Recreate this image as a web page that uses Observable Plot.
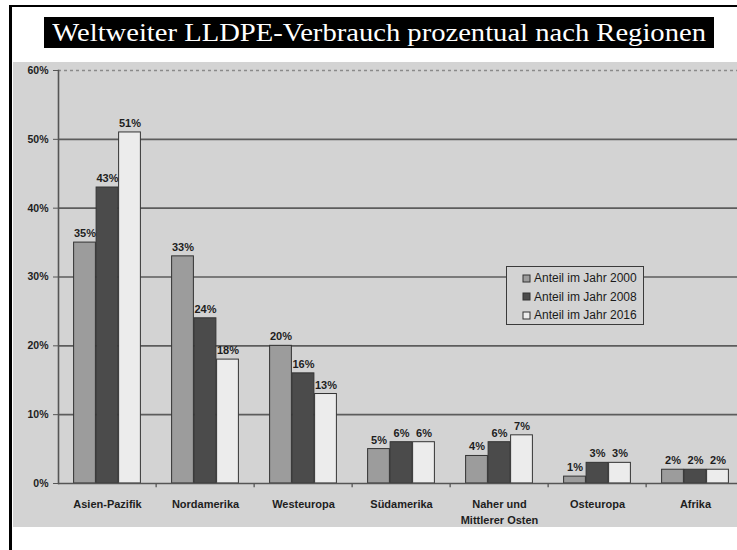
<!DOCTYPE html>
<html>
<head>
<meta charset="utf-8">
<script src="https://cdn.jsdelivr.net/npm/d3@7"></script>
<script src="https://cdn.jsdelivr.net/npm/@observablehq/plot@0.6"></script>
<style>
  html, body { margin: 0; padding: 0; background: #fff; overflow: hidden; width: 737px; height: 550px; }
  .fline { position: absolute; background: #000; }
  #ftop { left: 9px; top: 5px; width: 728px; height: 2px; }
  #fleft { left: 9px; top: 5px; width: 3px; height: 545px; }
  #title { position: absolute; left: 44px; top: 17px; width: 670px; height: 31px; background: #000; color: #fff;
           font-family: "Liberation Serif", "Times New Roman", serif; font-size: 26px; line-height: 31px; text-align: center; white-space: nowrap; overflow: hidden; }
  #title span { display: inline-block; transform: scaleX(1.1); transform-origin: center; }
  #chart { position: absolute; left: 13px; top: 62px; width: 724px; height: 465px; overflow: hidden; }
  #legend { position: absolute; left: 506px; top: 266px; width: 120px; height: 55px; border: 1.3px solid #3a3a3a; padding: 2px 0 0 16px; background: #d3d3d3; }
  #legend > div { min-height: 0 !important; margin: 0 !important; }
  #legend span { margin-right: 0 !important; line-height: 18.5px; height: 18.5px; white-space: nowrap; }
  #legend svg { margin-right: 4px !important; overflow: visible; }
  #legend rect { stroke: #333; stroke-width: 1; }
</style>
</head>
<body>
<div class="fline" id="ftop"></div>
<div class="fline" id="fleft"></div>
<div id="title"><span>Weltweiter LLDPE-Verbrauch prozentual nach Regionen</span></div>
<div id="chart"></div>
<div id="legend"></div>
<script>
// ---- data ----
const regions = ["Asien-Pazifik", "Nordamerika", "Westeuropa", "Südamerika", "Naher und\nMittlerer Osten", "Osteuropa", "Afrika"];
const years = ["Anteil im Jahr 2000", "Anteil im Jahr 2008", "Anteil im Jahr 2016"];
const v2000 = [35, 33, 20, 5, 4, 1, 2];
const v2008 = [43, 24, 16, 6, 6, 3, 2];
const v2016 = [51, 18, 13, 6, 7, 3, 2];
const yTicks = [0, 10, 20, 30, 40, 50, 60];
const barColors = ["#9c9c9c", "#4b4b4b", "#ececec"];

const series = [v2000, v2008, v2016];
const data = years.flatMap((yr, i) => series[i].map((v, j) => ({region: regions[j], year: yr, value: v})));

// ---- layout ----
const W = 724, H = 465;
const xRange = [42, 733];
const step = (xRange[1] - xRange[0]) / regions.length;
const bw = 22.5;
const g0 = (step - 3 * bw) / 2;
const font = "'Liberation Sans', Arial, sans-serif";

const barMarks = years.map((yr, i) => Plot.barY(data.filter(d => d.year === yr), {
  x: "region", y: "value", fill: "year", stroke: "#333", strokeWidth: 1,
  insetLeft: g0 + i * bw, insetRight: step - g0 - (i + 1) * bw
}));
const labelMarks = years.map((yr, i) => Plot.text(data.filter(d => d.year === yr), {
  x: "region", y: "value", text: d => d.value + "%", dx: (i - 1) * bw, dy: -9,
  fontWeight: "bold", fontSize: 11, fill: "#1e1e1e"
}));

const chart = Plot.plot({
  width: W, height: H,
  marginLeft: 45, marginRight: 0, marginTop: 8, marginBottom: 44,
  style: {background: "#d3d3d3", fontFamily: font, color: "#1e1e1e", overflow: "visible"},
  x: {domain: regions, range: xRange, padding: 0},
  y: {domain: [0, 60]},
  color: {domain: years, range: barColors},
  marks: [
    Plot.ruleY(yTicks.filter(t => t > 0 && t < 60), {stroke: "#5c5c5c", strokeWidth: 1.6}),
    Plot.ruleY([60], {stroke: "#8a8a8a", strokeWidth: 1.3, strokeDasharray: "3,3"}),
    ...barMarks,
    Plot.ruleY([0], {stroke: "#555", strokeWidth: 1.6}),
    Plot.frame({anchor: "left", stroke: "#555", strokeWidth: 1.6}),
    Plot.ruleX(regions.slice(1), {x: d => d, dx: -step / 2, y1: 0, y2: -0.6, stroke: "#555", strokeWidth: 1.3}),
    Plot.axisY({ticks: yTicks, tickFormat: d => d + "%", tickSize: 5, tickPadding: 5, fontWeight: "bold", fontSize: 10.5, stroke: "#555", label: null}),
    Plot.axisX({tickSize: 0, tickPadding: 14, fontWeight: "bold", fontSize: 11, label: null, lineHeight: 1.4}),
    ...labelMarks
  ]
});
document.getElementById("chart").appendChild(chart);

const legend = Plot.legend({
  color: {domain: years, range: barColors},
  legend: "swatches", swatchSize: 7,
  style: {fontFamily: font, fontSize: "12px", color: "#1a1a1a", background: "transparent"}
});
document.getElementById("legend").appendChild(legend);
</script>
</body>
</html>
